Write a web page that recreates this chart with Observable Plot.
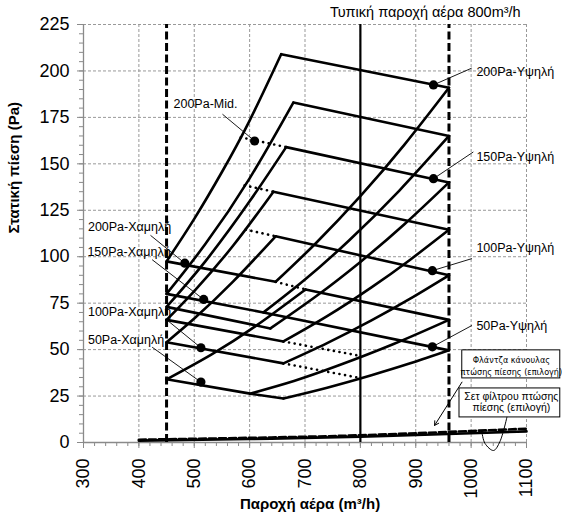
<!DOCTYPE html>
<html><head><meta charset="utf-8">
<script src="https://cdn.jsdelivr.net/npm/d3@7"></script>
<script src="https://cdn.jsdelivr.net/npm/@observablehq/plot@0.6"></script>
<style>
html,body{margin:0;padding:0;background:#fff}
#chart svg{display:block}
</style>
</head><body><div id="chart"></div>
<script>
// ---- axes ----
const xTicks = [300, 400, 500, 600, 700, 800, 900, 1000, 1100];
const yTicks = [0, 25, 50, 75, 100, 125, 150, 175, 200, 225];
const xMinor = d3.range(300, 1101, 20);
const yMinor = d3.range(0, 226, 5);
const flowLimits = [450, 960];      // dashed verticals
const typicalFlow = [800];          // solid vertical
const titleText = "Τυπική παροχή αέρα 800m³/h";
const yTitle = "Στατική πίεση (Pa)";
const xTitle = "Παροχή αέρα (m³/h)";

// ---- fan curves (falling) [id, flow, pressure] ----
const lowCurves = [
  ["A",450,97.5],["A",647,86.5],
  ["B",450,80],["B",625,70],["B",960,49.6],
  ["C",450,73],["C",637.5,61.4],
  ["D",450,66],["D",661,54.4],
  ["E",450,54],["E",661,42.6],
  ["F",450,34],["F",601,26.3],["F",661,23.7]
];
const highCurves = [
  ["A",657,209],["A",960,191],
  ["B",679,183],["B",960,165],
  ["C",666,159],["C",960,140],
  ["D",643,135],["D",960,114.5],
  ["E",647,111],["E",960,90],
  ["F",701,82.4],["F",960,66]
];
const dottedCurves = [
  ["C",584,164.3],["C",666,159],
  ["D",591,138.4],["D",643,135],
  ["E",593,114.6],["E",647,111],
  ["F",647,86.5],["F",701,82.4],
  ["D2",661,54.4],["D2",800,46.6],
  ["E2",661,42.6],["E2",800,34.7]
];
// ---- system curves (rising) ----
const systemLeft = [
  ["A",450,97.5],["A",500,120.4],["A",550,145.6],["A",600,173.3],["A",657,209],
  ["B",450,80],["B",520,106.8],["B",600,142.2],["B",679,183],
  ["C",450,73],["C",520,97.5],["C",600,129.8],["C",666,159],
  ["D",450,66],["D",500,81.5],["D",570,105.9],["D",643,135],
  ["E",450,54],["E",500,66.7],["E",570,86.6],["E",647,111],
  ["F",450,34],["F",530,47.2],["F",610,62.5],["F",701,82.4]
];
const systemRight = [
  ["A",647,86.5],["A",720,107.4],["A",800,132.6],["A",880,160.5],["A",960,191],
  ["B",625,70],["B",700,87.7],["B",780,108.9],["B",870,135.5],["B",960,165],
  ["C",637.5,61.4],["C",720,78.7],["C",800,97.2],["C",880,117.6],["C",960,140],
  ["D",661,54.4],["D",740,68],["D",820,83.5],["D",890,98.4],["D",960,114.5],
  ["E",661,42.6],["E",740,53.5],["E",820,65.7],["E",890,77.4],["E",960,90],
  ["F",601,26.3],["F",680,33.1],["F",760,41.4],["F",860,53],["F",960,66],
  ["G",661,23.7],["G",740,29.5],["G",820,36.2],["G",890,42.6],["G",960,49.6]
];
// ---- accessory pressure drops ----
const dropFlow = [400, 600, 800, 1000, 1100];
const flangeDrop = [1.0, 1.9, 3.1, 5.0, 6.0];
const filterDrop = [1.5, 2.5, 3.9, 6.2, 7.4];

// ---- labelled points ----
const leftLabels = ["200Pa-Mid.","200Pa-Χαμηλή","150Pa-Χαμηλή","100Pa-Χαμηλή","50Pa-Χαμηλή"];
const leftDotX = [609, 483, 517, 512, 512];
const leftDotY = [162.3, 96.5, 77, 51, 32.5];
const leftTextX = [462.5, 308, 307, 308, 308];
const leftTextY = [182, 115.8, 102.4, 70.2, 55.3];
const leftLeadX = [551, 421, 424, 448, 424];
const leftLeadY = [176.7, 111.5, 98.4, 66.6, 51.3];

const rightLabels = ["200Pa-Υψηλή","150Pa-Υψηλή","100Pa-Υψηλή","50Pa-Υψηλή"];
const rightDotX = [932, 932, 930, 930];
const rightDotY = [192.5, 142, 92.5, 51.5];
const rightTextX = [1009.5, 1009.5, 1009.5, 1009.5];
const rightTextY = [199.5, 153.5, 104.5, 62.5];
const rightLeadX = [1001, 1004, 1001.5, 1001.5];
const rightLeadY = [201.5, 156.4, 99, 63];

// ---- boxes ----
const boxTexts = ["Φλάντζα κάνουλας\nπτώσης πίεσης (επιλογή)", "Σετ φίλτρου πτώσης\nπίεσης (επιλογή)"];
const boxX1 = [984, 979], boxX2 = [1161, 1161];
const boxY1 = [34.5, 13.5], boxY2 = [49.6, 29.1];
const boxTextX = [1072.6, 1072.6], boxTextY = [41.6, 21.8];
const arrowFlange = {x1: 983.5, y1: 32.5, x2: 934, y2: 9.2};
const filterHook = [[1064.6,13.6],[1052,0.5],[1040.5,-4.3],[1025,-0.5],[1019.5,5.6]];

const rows = a => a.map(([id, x, y]) => ({id, x, y}));
const idx = a => a.map((_, i) => i);
const FONT = "Liberation Sans, Arial, Helvetica, sans-serif";
const LW = 2.6;

const chart = Plot.plot({
  width: 562, height: 525,
  marginLeft: 83, marginRight: 36, marginTop: 24, marginBottom: 83,
  style: {fontFamily: FONT, background: "#fff", color: "#000", overflow: "visible"},
  x: {domain: [300, 1100]},
  y: {domain: [0, 225]},
  marks: [
    Plot.gridX(xTicks.slice(1), {stroke: "#999", strokeOpacity: 1, strokeDasharray: "3,2"}),
    Plot.gridY(yTicks.slice(1), {stroke: "#999", strokeOpacity: 1, strokeDasharray: "3,2"}),
    Plot.ruleX([300], {stroke: "#8a8a8a", strokeWidth: 1.3}),
    Plot.ruleY([0], {stroke: "#8a8a8a", strokeWidth: 1.3}),
    Plot.axisY(yMinor, {tickSize: 4, tickFormat: () => "", stroke: "#8a8a8a", label: null}),
    Plot.axisY(yTicks, {tickSize: 6, tickPadding: 8, fontSize: 18, tickFormat: d => String(d), stroke: "#8a8a8a", label: null}),
    Plot.axisX(xMinor, {tickSize: 4, tickFormat: () => "", stroke: "#8a8a8a", label: null}),
    Plot.axisX(xTicks, {tickSize: 6, tickPadding: 10, tickRotate: -90, fontSize: 18, tickFormat: d => String(d), stroke: "#8a8a8a", label: null}),
    // reference verticals
    Plot.ruleX(flowLimits, {y1: 0, y2: 225, stroke: "#000", strokeWidth: 3, strokeDasharray: "8,3.5"}),
    Plot.ruleX(typicalFlow, {y1: 0, y2: 225, stroke: "#000", strokeWidth: 2.2}),
    // curves
    Plot.line(rows(systemLeft), {x: "x", y: "y", z: "id", curve: "natural", stroke: "#000", strokeWidth: LW}),
    Plot.line(rows(systemRight), {x: "x", y: "y", z: "id", curve: "natural", stroke: "#000", strokeWidth: LW}),
    Plot.line(rows(lowCurves), {x: "x", y: "y", z: "id", stroke: "#000", strokeWidth: LW, strokeLinejoin: "miter"}),
    Plot.line(rows(highCurves), {x: "x", y: "y", z: "id", stroke: "#000", strokeWidth: LW}),
    Plot.line(rows(dottedCurves), {x: "x", y: "y", z: "id", stroke: "#000", strokeWidth: 2.6, strokeDasharray: "0.1,5.6", strokeLinecap: "round"}),
    // pressure drop lines
    Plot.line(dropFlow, {x: d => d, y: (d, i) => flangeDrop[i], curve: "natural", stroke: "#000", strokeWidth: 2.6}),
    Plot.line(dropFlow, {x: d => d, y: (d, i) => filterDrop[i], curve: "natural", stroke: "#000", strokeWidth: 2.6, strokeDasharray: "7,3"}),
    // leaders and dots
    Plot.link(idx(leftLabels), {x1: i => leftLeadX[i], y1: i => leftLeadY[i], x2: i => leftDotX[i], y2: i => leftDotY[i], stroke: "#000", strokeWidth: 0.9}),
    Plot.link(idx(rightLabels), {x1: i => rightLeadX[i], y1: i => rightLeadY[i], x2: i => rightDotX[i], y2: i => rightDotY[i], stroke: "#000", strokeWidth: 0.9}),
    Plot.dot(idx(leftLabels), {x: i => leftDotX[i], y: i => leftDotY[i], r: 4.6, fill: "#000"}),
    Plot.dot(idx(rightLabels), {x: i => rightDotX[i], y: i => rightDotY[i], r: 4.6, fill: "#000"}),
    Plot.text(leftLabels, {x: (d, i) => leftTextX[i], y: (d, i) => leftTextY[i], text: d => d, textAnchor: "start", fontSize: 12.5, fill: "#000"}),
    Plot.text(rightLabels, {x: (d, i) => rightTextX[i], y: (d, i) => rightTextY[i], text: d => d, textAnchor: "start", fontSize: 12.5, fill: "#000"}),
    // boxes
    Plot.rect(idx(boxTexts), {x1: i => boxX1[i], x2: i => boxX2[i], y1: i => boxY1[i], y2: i => boxY2[i], fill: "#fff", stroke: "#000", strokeWidth: 1}),
    Plot.text([boxTexts[0]], {x: boxTextX[0], y: boxTextY[0], text: d => d, fontSize: 9, lineHeight: 1.3, fontFamily: "Liberation Sans Narrow, DejaVu Sans Condensed, sans-serif", fontStretch: "condensed", fill: "#000"}),
    Plot.text([boxTexts[1]], {x: boxTextX[1], y: boxTextY[1], text: d => d, fontSize: 10.5, lineHeight: 1.1, fill: "#000"}),
    Plot.arrow([arrowFlange], {x1: "x1", y1: "y1", x2: "x2", y2: "y2", stroke: "#000", strokeWidth: 1, headLength: 7}),
    Plot.line(filterHook, {x: d => d[0], y: d => d[1], curve: "catmull-rom", stroke: "#000", strokeWidth: 1, markerEnd: "arrow"}),
    // titles
    Plot.text([titleText], {x: typicalFlow[0], y: 225, dy: -12, dx: 65, text: d => d, fontSize: 14.5, fill: "#000"}),
    Plot.text([yTitle], {frameAnchor: "left", dx: -69, rotate: -90, text: d => d, fontSize: 15, fontWeight: "bold", fill: "#000"}),
    Plot.text([xTitle], {frameAnchor: "bottom", dy: 66, dx: 5, text: d => d, fontSize: 15, fontWeight: "bold", fill: "#000"})
  ]
});
document.getElementById("chart").appendChild(chart);
</script>
</body></html>
